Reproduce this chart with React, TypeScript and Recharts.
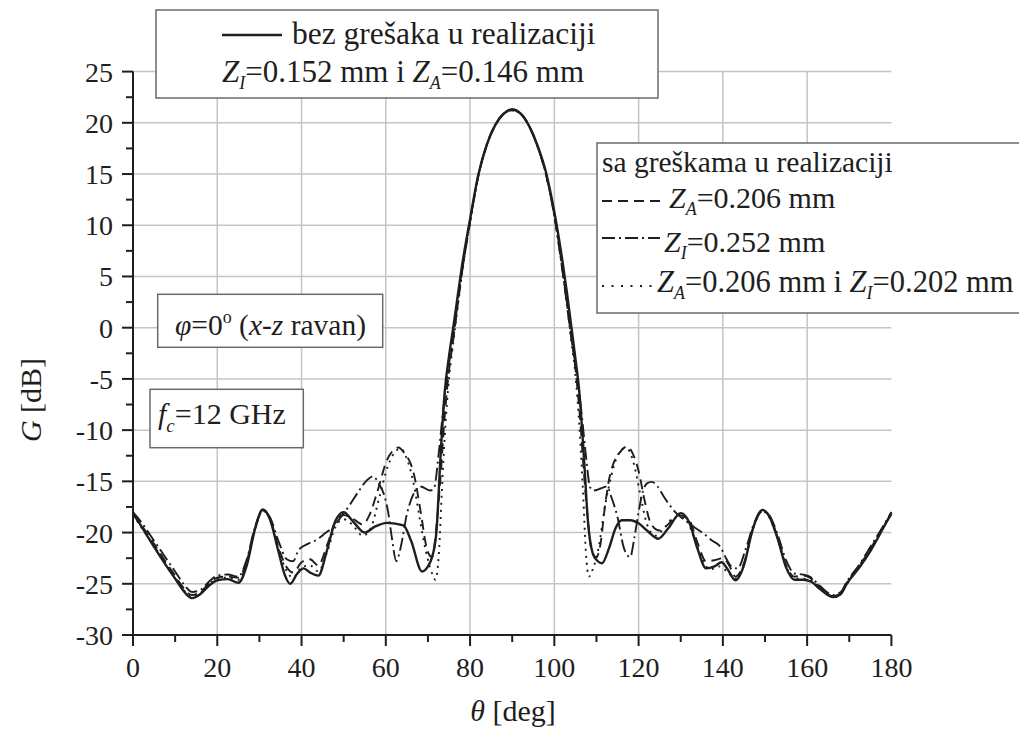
import React from 'react';
import { LineChart, Line, XAxis, YAxis, CartesianGrid } from 'recharts';

// ---- data (theta in deg, gain in dB) ----
const solidTheta = [0, 2, 5, 8, 10, 12, 14, 16, 18, 20, 22.5, 25, 27, 29, 30.8, 32.5, 34.5, 36, 37.3, 39, 40.5, 42, 44, 46, 48, 50, 52, 55, 57.5, 60.3, 64.2, 66, 68.6, 70, 70.9, 72, 73, 74, 75, 76, 77, 78, 80, 82, 84, 86, 88, 90, 92, 94, 96, 98, 100, 102, 103, 104, 105, 106, 107, 108, 109.1, 110.3, 111.3, 113, 114.5, 116, 118, 120, 122, 124.7, 127, 130, 132, 134, 136, 138, 139.7, 141, 143, 145, 147, 149.4, 151, 153, 155, 157, 159, 161, 163, 166.2, 168, 169.4, 172.6, 175, 178, 180];
const solidG = [-18.1, -19.4, -21.4, -23.3, -24.5, -25.7, -26.4, -26.0, -25.2, -24.65, -24.55, -24.9, -23.2, -19.6, -17.75, -18.7, -21.8, -24.1, -25.0, -24.0, -23.5, -23.9, -24.2, -21.8, -18.9, -18.0, -18.8, -20.0, -19.4, -19.05, -19.3, -20.8, -23.8, -23.3, -22.5, -20.0, -12.5, -6.2, -2.8, 0, 2.9, 5.8, 10.6, 15.0, 17.9, 19.8, 20.9, 21.3, 20.9, 19.7, 17.8, 15.2, 11.3, 6.3, 3.4, 0.2, -3.0, -6.6, -12.5, -19.0, -22.0, -22.8, -23.0, -21.5, -19.6, -18.8, -18.8, -19.1, -19.8, -20.6, -19.6, -18.1, -19.0, -21.6, -23.5, -23.3, -22.9, -23.5, -24.65, -23.2, -19.8, -17.8, -18.4, -20.6, -23.4, -24.6, -24.6, -24.8, -25.5, -26.3, -26.0, -25.0, -23.3, -21.8, -19.6, -18.1];

const dashTheta = [0, 2, 5, 8, 10, 12, 14, 16, 18, 20, 22.5, 25, 27, 29, 30.8, 32.5, 34.5, 36.5, 38, 40, 42, 44, 46, 48, 50, 52, 54.5, 56, 58, 60.3, 62, 63, 64.5, 66.2, 67, 67.8, 68.6, 69.3, 70.1, 71, 72, 73, 74, 75, 76, 77, 78, 80, 82, 84, 86, 88, 90, 92, 94, 96, 98, 100, 102, 103, 104, 105, 106, 107, 108, 109, 110, 111, 112, 113, 114, 115.5, 117.2, 118.5, 120, 121.5, 123, 125, 127, 129.5, 132, 134, 136, 138, 140, 141.5, 143, 145, 147, 149.4, 151, 153, 155, 157, 159, 161, 163, 166.2, 168, 169.4, 172.6, 175, 178, 180];
const dashG = [-18.2, -19.3, -21.1, -23.0, -24.2, -25.4, -26.1, -25.8, -25.0, -24.4, -24.3, -24.4, -22.8, -19.5, -17.8, -18.6, -21.4, -23.4, -23.9, -22.9, -22.6, -23.2, -21.3, -19.0, -18.3, -18.6, -19.2, -18.4, -16.0, -12.9, -11.9, -11.7, -12.3, -13.6, -14.9, -16.8, -18.8, -20.7, -22.0, -22.4, -19.5, -14.5, -8.5, -4.2, -1.2, 2.0, 5.2, 10.4, 14.9, 17.9, 19.8, 20.9, 21.3, 20.9, 19.7, 17.7, 15.0, 11.0, 5.6, 2.4, -0.8, -4.0, -8.3, -14.0, -19.0, -22.0, -22.4, -21.0, -17.5, -14.8, -13.3, -12.2, -11.6, -12.2, -14.0, -17.0, -19.2, -19.8, -19.2, -18.3, -18.8, -21.0, -22.8, -22.7, -22.5, -23.2, -24.3, -23.0, -19.8, -17.9, -18.4, -20.5, -23.2, -24.3, -24.2, -24.5, -25.3, -26.2, -25.9, -24.9, -23.1, -21.6, -19.5, -18.2];

const dashDotTheta = [0, 2, 5, 8, 10, 12, 14, 16, 18, 20, 22.5, 25, 27, 29, 30.8, 32.5, 34.5, 36.5, 38, 39.3, 41.5, 43.6, 45.5, 47.6, 49.5, 51.6, 53.5, 55.5, 57, 58.3, 59.5, 60.6, 61.4, 62.5, 63.5, 65, 66.5, 68.2, 70.6, 71.5, 72.5, 73.5, 74.5, 76, 78, 80, 82, 84, 86, 88, 90, 92, 94, 96, 98, 100, 102, 104, 105.5, 106.5, 107.5, 108.5, 109.3, 111, 112.5, 113.5, 115, 116.5, 118, 119, 120, 121, 122, 123.1, 124.5, 126, 128.7, 131, 133, 135.4, 137.5, 139.4, 140.5, 142, 143.5, 145.5, 147.5, 149.4, 151, 153, 155, 157, 159, 161, 163, 166.2, 168, 169.4, 172.6, 175, 178, 180];
const dashDotG = [-18.0, -19.0, -20.8, -22.6, -23.8, -25.0, -25.8, -25.6, -24.8, -24.2, -24.1, -24.3, -22.6, -19.4, -17.9, -18.5, -20.8, -22.6, -22.8, -21.7, -21.1, -20.7, -20.1, -19.4, -18.4, -17.2, -16.0, -14.9, -14.5, -15.2, -16.2, -18.1, -20.4, -22.8, -21.5, -18.2, -16.3, -15.5, -15.9, -15.6, -12.5, -8.5, -5.0, -0.8, 5.2, 10.3, 14.9, 17.9, 19.8, 20.9, 21.2, 20.9, 19.7, 17.7, 15.0, 10.9, 5.3, -0.9, -5.0, -8.5, -12.5, -15.6, -15.9, -15.7, -15.5, -16.5, -18.5, -21.5, -22.4, -20.5, -18.0, -16.0, -15.2, -15.05, -15.5, -16.5, -18.0, -18.8, -19.4, -20.1, -20.8, -21.4, -22.3, -23.3, -23.5, -21.5, -19.0, -17.9, -18.3, -20.2, -22.7, -24.0, -24.1, -24.4, -25.2, -26.1, -25.8, -24.8, -23.0, -21.4, -19.4, -18.0];

const dotTheta = [0, 2, 5, 8, 10, 12, 14, 16, 18, 20, 22.5, 25, 27, 29, 30.8, 32.5, 34.5, 36.5, 38, 40, 42, 44, 46, 48, 50, 52, 54.5, 56.5, 58.5, 60.5, 62.5, 63.5, 65, 66.5, 68, 69.5, 70.8, 71.8, 72.6, 73.3, 74, 75, 76, 77, 78, 80, 82, 84, 86, 88, 90, 92, 94, 96, 98, 100, 102, 103, 104, 105, 106, 106.8, 107.5, 108.2, 109.2, 110.5, 112, 113.5, 115, 116.5, 117.5, 119, 120.5, 122, 124, 126, 128.5, 131, 133, 135, 137, 139, 141, 143, 145, 147, 149.4, 151, 153, 155, 157, 159, 161, 163, 166.2, 168, 169.4, 172.6, 175, 178, 180];
const dotG = [-18.3, -19.5, -21.3, -23.2, -24.4, -25.6, -26.3, -25.9, -25.1, -24.5, -24.4, -24.6, -23.0, -19.6, -17.8, -18.7, -21.6, -23.8, -24.4, -23.4, -23.2, -23.8, -22.0, -19.5, -18.7, -19.2, -20.3, -19.5, -16.5, -13.5, -12.0, -11.8, -12.8, -15.0, -18.5, -21.8, -23.8, -24.6, -22.0, -16.0, -10.5, -5.0, -1.5, 1.8, 5.0, 10.3, 14.9, 17.9, 19.8, 20.9, 21.2, 20.9, 19.7, 17.7, 15.0, 10.9, 5.4, 2.2, -1.2, -4.6, -10.0, -16.0, -22.0, -24.3, -23.5, -21.5, -17.5, -14.5, -12.5, -11.8, -11.9, -13.5, -16.5, -19.2, -20.3, -19.6, -18.5, -18.6, -20.3, -22.5, -23.6, -23.3, -23.8, -24.5, -23.1, -19.8, -17.9, -18.5, -20.6, -23.3, -24.5, -24.5, -24.7, -25.4, -26.3, -26.0, -25.0, -23.2, -21.7, -19.5, -18.2];

const xTicks = [0, 10, 20, 30, 40, 50, 60, 70, 80, 90, 100, 110, 120, 130, 140, 150, 160, 170, 180];
const yTicks = [-30, -27.5, -25, -22.5, -20, -17.5, -15, -12.5, -10, -7.5, -5, -2.5, 0, 2.5, 5, 7.5, 10, 12.5, 15, 17.5, 20, 22.5, 25];
const gridX = [20, 40, 60, 80, 100, 120, 140, 160];
const gridY = [-25, -20, -15, -10, -5, 0, 5, 10, 15, 20, 25];

const rows = (t: number[], g: number[]) => t.map((x, i) => ({ theta: x, g: g[i] }));

const FONT = '"Liberation Serif", "Times New Roman", serif';
const INK = '#1e1e1e';
const DASH = '10 6';
const DASHDOT = '13 4 2 4';
const DOTS = '2 5';

const XTick = (props: any) => {
  const { x, y, payload } = props;
  const v = payload.value;
  const major = v % 20 === 0;
  return (
    <g>
      <line x1={x} x2={x} y1={y} y2={y + (major ? 11 : 7)} stroke={INK} strokeWidth={2} />
      {major && (
        <text x={x} y={y + 42} textAnchor="middle" fontSize={28} fontFamily={FONT} fill={INK}>{v}</text>
      )}
    </g>
  );
};

const YTick = (props: any) => {
  const { x, y, payload } = props;
  const v = payload.value;
  const major = v % 5 === 0;
  return (
    <g>
      <line x1={x} x2={x - (major ? 11 : 7)} y1={y} y2={y} stroke={INK} strokeWidth={2} />
      {major && (
        <text x={x - 20} y={y + 10} textAnchor="end" fontSize={28} fontFamily={FONT} fill={INK}>{String(v)}</text>
      )}
    </g>
  );
};

export default function App() {
  return (
    <div style={{ position: 'relative', width: 1019, height: 726 }}>
      <LineChart
        width={1019}
        height={726}
        margin={{ top: 63.6, right: 135.6, left: 0, bottom: 39 }}
      >
        <CartesianGrid
          stroke="#c4c4c4"
          strokeWidth={1.5}
          horizontalValues={gridY}
          verticalValues={gridX}
        />
        <XAxis
          type="number"
          dataKey="theta"
          domain={[0, 180]}
          ticks={xTicks}
          interval={0}
          tick={<XTick />}
          tickLine={false}
          tickSize={0}
          tickMargin={0}
          height={60}
          axisLine={{ stroke: INK, strokeWidth: 2 }}
          allowDuplicatedCategory={false}
        />
        <YAxis
          type="number"
          dataKey="g"
          domain={[-30, 25]}
          ticks={yTicks}
          interval={0}
          tick={<YTick />}
          tickLine={false}
          tickSize={0}
          tickMargin={0}
          width={125}
          axisLine={{ stroke: INK, strokeWidth: 2 }}
        />
        <Line data={rows(dotTheta, dotG)} dataKey="g" type="monotone" stroke={INK} strokeWidth={1.9} strokeDasharray={DOTS} dot={false} isAnimationActive={false} />
        <Line data={rows(dashDotTheta, dashDotG)} dataKey="g" type="monotone" stroke={INK} strokeWidth={1.9} strokeDasharray={DASHDOT} dot={false} isAnimationActive={false} />
        <Line data={rows(dashTheta, dashG)} dataKey="g" type="monotone" stroke={INK} strokeWidth={1.9} strokeDasharray={DASH} dot={false} isAnimationActive={false} />
        <Line data={rows(solidTheta, solidG)} dataKey="g" type="monotone" stroke={INK} strokeWidth={2.4} dot={false} isAnimationActive={false} />
      </LineChart>

      <svg width={1019} height={726} style={{ position: 'absolute', left: 0, top: 0, pointerEvents: 'none' }} fontFamily={FONT}>
        {/* top legend box */}
        <rect x={148} y={2} width={502} height={88} fill="#fff" stroke="#6a6a6a" strokeWidth={1.5} />
        <line x1={214} x2={274} y1={27} y2={27} stroke={INK} strokeWidth={2.4} />
        <text x={284} y={36} fontSize={31.5} fill={INK}>bez grešaka u realizaciji</text>
        <text x={214} y={74} fontSize={31} fill={INK}>
          <tspan fontStyle="italic">Z</tspan>
          <tspan fontStyle="italic" fontSize={18} dy={7}>I</tspan>
          <tspan dy={-7}>=0.152 mm i </tspan>
          <tspan fontStyle="italic">Z</tspan>
          <tspan fontStyle="italic" fontSize={18} dy={7}>A</tspan>
          <tspan dy={-7}>=0.146 mm</tspan>
        </text>

        {/* right legend box */}
        <rect x={589} y={135} width={428} height={170} fill="#fff" stroke="#6a6a6a" strokeWidth={1.5} />
        <text x={594} y={164} fontSize={29.5} fill={INK}>sa greškama u realizaciji</text>
        <line x1={594} x2={658} y1={193} y2={193} stroke={INK} strokeWidth={1.9} strokeDasharray={DASH} />
        <text x={661} y={200} fontSize={30} fill={INK}>
          <tspan fontStyle="italic">Z</tspan>
          <tspan fontStyle="italic" fontSize={18} dy={7}>A</tspan>
          <tspan dy={-7}>=0.206 mm</tspan>
        </text>
        <line x1={594} x2={652} y1={230} y2={230} stroke={INK} strokeWidth={1.9} strokeDasharray={DASHDOT} />
        <text x={656} y={244} fontSize={30} fill={INK}>
          <tspan fontStyle="italic">Z</tspan>
          <tspan fontStyle="italic" fontSize={18} dy={7}>I</tspan>
          <tspan dy={-7}>=0.252 mm</tspan>
        </text>
        <line x1={594} x2={645} y1={278} y2={278} stroke={INK} strokeWidth={1.9} strokeDasharray="2 7.5" />
        <text x={649} y={284} fontSize={30.5} fill={INK}>
          <tspan fontStyle="italic">Z</tspan>
          <tspan fontStyle="italic" fontSize={18} dy={7}>A</tspan>
          <tspan dy={-7}>=0.206 mm i </tspan>
          <tspan fontStyle="italic">Z</tspan>
          <tspan fontStyle="italic" fontSize={18} dy={7}>I</tspan>
          <tspan dy={-7}>=0.202 mm</tspan>
        </text>

        {/* phi box */}
        <rect x={149.7} y={286.3} width={225} height={53} fill="#fff" stroke="#6a6a6a" strokeWidth={1.5} />
        <text x={167} y={327} fontSize={29.5} fill={INK}>
          <tspan fontStyle="italic">φ</tspan>
          <tspan>=0</tspan>
          <tspan fontSize={18} dy={-12}>o</tspan>
          <tspan dy={12}> (</tspan>
          <tspan fontStyle="italic">x</tspan>
          <tspan>-</tspan>
          <tspan fontStyle="italic">z</tspan>
          <tspan> ravan)</tspan>
        </text>

        {/* fc box */}
        <rect x={142} y={381.3} width={153.3} height={58.4} fill="#fff" stroke="#6a6a6a" strokeWidth={1.5} />
        <text x={150} y={416} fontSize={30} fill={INK}>
          <tspan fontStyle="italic">f</tspan>
          <tspan fontStyle="italic" fontSize={19} dy={8}>c</tspan>
          <tspan dy={-8}>=12 GHz</tspan>
        </text>

        {/* axis titles */}
        <text transform="translate(33,392) rotate(-90)" textAnchor="middle" fontSize={30} fill={INK}>
          <tspan fontStyle="italic">G</tspan>
          <tspan> [dB]</tspan>
        </text>
        <text x={505} y={713} textAnchor="middle" fontSize={30} fill={INK}>
          <tspan fontStyle="italic">θ</tspan>
          <tspan> [deg]</tspan>
        </text>
      </svg>
    </div>
  );
}
